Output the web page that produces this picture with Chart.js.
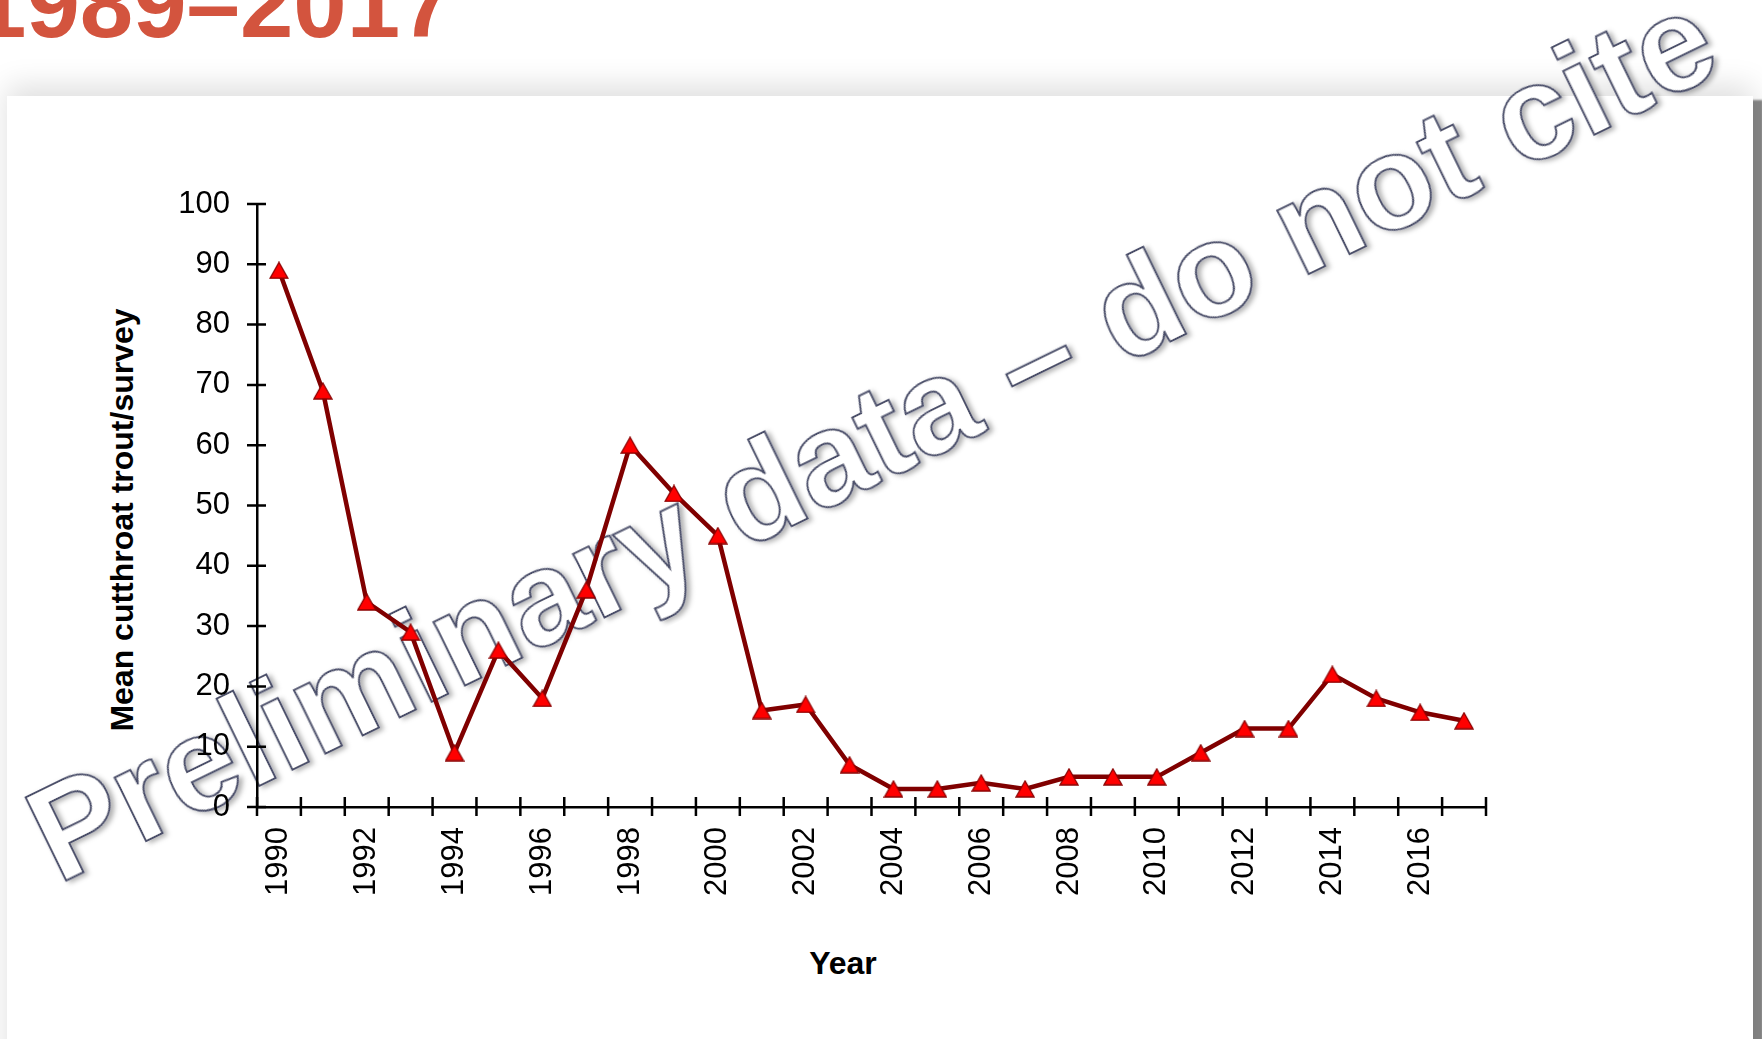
<!DOCTYPE html>
<html>
<head>
<meta charset="utf-8">
<title>Mean cutthroat trout/survey 1989–2017</title>
<script src="https://cdn.jsdelivr.net/npm/chart.js@4.4.1/dist/chart.umd.min.js"></script>
<style>
    html, body {
        margin: 0;
        padding: 0;
        width: 1762px;
        height: 1039px;
        overflow: hidden;
        background: #fff;
        font-family: "Liberation Sans", Arial, sans-serif;
    }
    #card {
        position: absolute;
        left: 7px;
        top: 96px;
        width: 1746px;
        height: 1000px;
        background: #fff;
        box-shadow: 0 -10px 28px rgba(0,0,0,0.13), 10px 4px 2px rgba(0,0,0,0.47);
    }
    #texts, #chart {
        position: absolute;
        left: 0;
        top: 0;
    }
</style>
</head>
<body>

<div id="card"></div>

<svg id="texts" width="1762" height="1039" font-family="Liberation Sans, Arial, sans-serif">
    <defs>
        <filter id="soft" x="-5%" y="-5%" width="110%" height="110%">
            <feDropShadow dx="3" dy="3" stdDeviation="2.5" flood-color="#000" flood-opacity="0.3"/>
        </filter>
    </defs>
    <text x="-27" y="37" font-size="96" font-weight="bold" fill="#D3543E">1989–2017</text>
    <text transform="translate(133 520) rotate(-90)" text-anchor="middle" font-size="32" font-weight="bold" fill="#000">Mean cutthroat trout/survey</text>
    <text x="843" y="974" text-anchor="middle" font-size="32" font-weight="bold" fill="#000">Year</text>
    <text x="58" y="884" transform="rotate(-26 58 884)" font-size="133" font-weight="bold" fill="#fff" stroke="#4B4F6B" stroke-width="2" filter="url(#soft)">Preliminary data – do not cite</text>
</svg>

<canvas id="chart" width="1762" height="1039"></canvas>

<script>
// =============================
// DATA
// =============================
const years = [
    "1990", "1991", "1992", "1993", "1994", "1995", "1996", "1997", "1998", "1999",
    "2000", "2001", "2002", "2003", "2004", "2005", "2006", "2007", "2008", "2009",
    "2010", "2011", "2012", "2013", "2014", "2015", "2016", "2017"
];

const troutPerSurvey = [
    89, 69, 34, 29, 9, 26, 18, 36, 60, 52,
    45, 16, 17, 7, 3, 3, 4, 3, 5, 5,
    5, 9, 13, 13, 22, 18, 15.7, 14.3
];

const yMin = 0;
const yMax = 100;
const yStep = 10;

// =============================
// MARKER (triangle centred on its box, like the original)
// =============================
function triangleMarker() {
    const c = document.createElement("canvas");
    c.width = 20;
    c.height = 18;
    const g = c.getContext("2d");
    g.beginPath();
    g.moveTo(10, 1);
    g.lineTo(19, 17);
    g.lineTo(1, 17);
    g.closePath();
    g.fillStyle = "#FF0000";
    g.fill();
    g.lineWidth = 1.3;
    g.strokeStyle = "#8B0000";
    g.stroke();
    return c;
}

// =============================
// TICKS THAT CROSS THE AXES
// =============================
const crossTicks = {
    id: "crossTicks",
    beforeDatasetsDraw(chart) {
        const { ctx, scales: { x, y } } = chart;

        ctx.save();
        ctx.strokeStyle = "#000";
        ctx.lineWidth = 2.5;
        ctx.beginPath();

        y.ticks.forEach(t => {
            const py = y.getPixelForValue(t.value);
            ctx.moveTo(y.right - 10, py);
            ctx.lineTo(y.right + 9, py);
        });

        for (let i = 0; i <= years.length; i++) {
            const px = x.getPixelForValue(i - 0.5);
            ctx.moveTo(px, x.top - 10);
            ctx.lineTo(px, x.top + 9);
        }

        ctx.stroke();
        ctx.restore();
    }
};

// =============================
// CHART
// =============================
Chart.defaults.font.family = '"Liberation Sans", Arial, sans-serif';
Chart.defaults.color = "#000";

new Chart(document.getElementById("chart"), {
    type: "line",
    data: {
        labels: years,
        datasets: [{
            data: troutPerSurvey,
            borderColor: "#800000",
            borderWidth: 4.5,
            tension: 0,
            pointStyle: triangleMarker(),
            pointRadius: 10,
            clip: false
        }]
    },
    options: {
        responsive: false,
        animation: false,
        layout: {
            padding: { top: 204, right: 276, bottom: 0, left: 0 }
        },
        plugins: {
            legend: { display: false },
            tooltip: { enabled: false }
        },
        scales: {
            x: {
                type: "category",
                offset: true,
                grid: { display: false, drawTicks: false, offset: true },
                border: { display: true, color: "#000", width: 2.5 },
                ticks: {
                    autoSkip: false,
                    minRotation: 90,
                    maxRotation: 90,
                    padding: 20,
                    font: { size: 31 },
                    callback: (v, i) => (i % 2 === 0 ? years[i] : "")
                },
                afterFit: scale => { scale.height = 232; }
            },
            y: {
                min: yMin,
                max: yMax,
                grid: { display: false, drawTicks: false },
                border: { display: true, color: "#000", width: 2.5 },
                ticks: {
                    stepSize: yStep,
                    padding: 27,
                    font: { size: 31 }
                },
                afterFit: scale => { scale.width = 257; }
            }
        }
    },
    plugins: [crossTicks]
});
</script>
</body>
</html>
